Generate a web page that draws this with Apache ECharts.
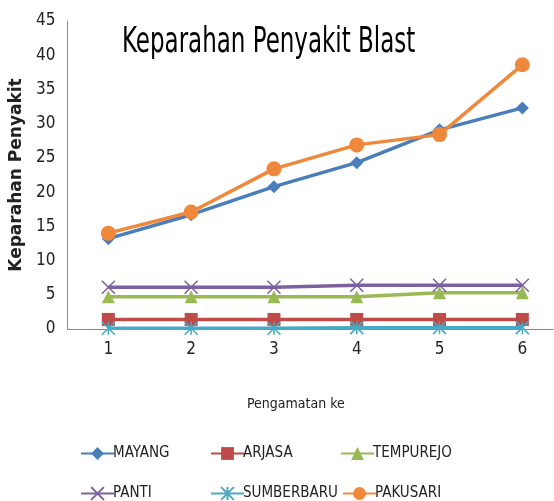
<!DOCTYPE html>
<html><head><meta charset="utf-8">
<script src="https://cdn.jsdelivr.net/npm/echarts@6/dist/echarts.min.js"></script>
<style>html,body{margin:0;padding:0;background:#fff}#c{width:554px;height:501px}</style>
</head><body><div id="c"></div>
<script>
const categories = [1, 2, 3, 4, 5, 6];
const seriesNames = ['MAYANG','ARJASA','TEMPUREJO','PANTI','SUMBERBARU','PAKUSARI'];
const mayang = [13.2, 16.7, 20.8, 24.3, 29.1, 32.3];
const arjasa = [1.4, 1.4, 1.4, 1.4, 1.4, 1.4];
const tempurejo = [4.7, 4.7, 4.7, 4.7, 5.3, 5.3];
const panti = [6.1, 6.1, 6.1, 6.4, 6.4, 6.4];
const sumberbaru = [0.1, 0.1, 0.1, 0.2, 0.2, 0.2];
const pakusari = [14.0, 17.1, 23.4, 26.9, 28.4, 38.6];
const yTicks = [0,5,10,15,20,25,30,35,40,45];

const NARROW = '"Liberation Sans Narrow","DejaVu Sans Condensed","Roboto Condensed",sans-serif';
const colors = ['#4A7EBB','#BE4B48','#98B954','#7D60A0','#46AAC5','#F0883C'];
const xPath = 'path://M0,0L10,10M10,0L0,10';
const starPath = 'path://M5,0L5,10M0,0L10,10M10,0L0,10';
const symbols = ['diamond','rect','triangle',xPath,starPath,'circle'];
const sizes = [13,13,13,13,13,15];
const datas = [mayang, arjasa, tempurejo, panti, sumberbaru, pakusari];

const series = seriesNames.map((n,i)=>({
  name:n, type:'line', data:categories.map((c,j)=>[c, datas[i][j]]),
  symbol:symbols[i], symbolSize:sizes[i], showAllSymbol:true, clip:false,
  lineStyle:{width:3.5,color:colors[i]},
  itemStyle:(i===3||i===4)?{color:colors[i],borderColor:colors[i],borderWidth:1.5}:{color:colors[i]},
  z: 2+i
}));

const legendPos = [[75,441],[205,441],[335,441],[75,481],[205,481],[337,481]];
const legends = seriesNames.map((n,i)=>({
  data:[n], left:legendPos[i][0], top:legendPos[i][1], itemWidth:33, itemHeight:16, itemGap:0,
  textStyle:{fontFamily:NARROW,fontSize:15,color:'#222',padding:[0,0,0,-6]},
  selectedMode:false
}));

const chart = echarts.init(document.getElementById('c'),null,{renderer:'canvas'});
chart.setOption({
  animation:false,
  color:colors,
  title:[
    {text:'Pengamatan ke',left:247,top:397,padding:0,
      textStyle:{fontFamily:NARROW,fontSize:14,fontWeight:'normal',color:'#222'}}
  ],
  graphic:[
    {type:'text', x:122, y:25, scaleX:0.73, scaleY:1,
      style:{text:'Keparahan Penyakit Blast', font:'35px "DejaVu Sans Condensed", sans-serif', fill:'#000', textVerticalAlign:'top'}}
  ],
  grid:{left:67,top:21,bottom:172,right:1,containLabel:false},
  legend:legends,
  xAxis:{type:'value',min:0.505,max:6.37,
    axisLine:{show:true,lineStyle:{color:'#888',width:1}},axisTick:{show:false},
    splitLine:{show:false},
    axisLabel:{fontFamily:NARROW,fontSize:17,color:'#222',margin:12,
      customValues:categories, formatter:v=>String(v)}},
  yAxis:{type:'value',min:0,max:45,interval:5,
    name:'Keparahan Penyakit',nameLocation:'middle',nameGap:42,
    nameTextStyle:{fontFamily:'"DejaVu Sans",sans-serif',fontSize:17,fontWeight:'bold',color:'#222'},
    axisLine:{show:true,lineStyle:{color:'#888',width:1}},axisTick:{show:false},
    splitLine:{show:false},
    axisLabel:{fontFamily:NARROW,fontSize:17,color:'#222',margin:12,
      formatter:v=>yTicks.includes(v)?String(v):''}},
  series:series
});
</script></body></html>
